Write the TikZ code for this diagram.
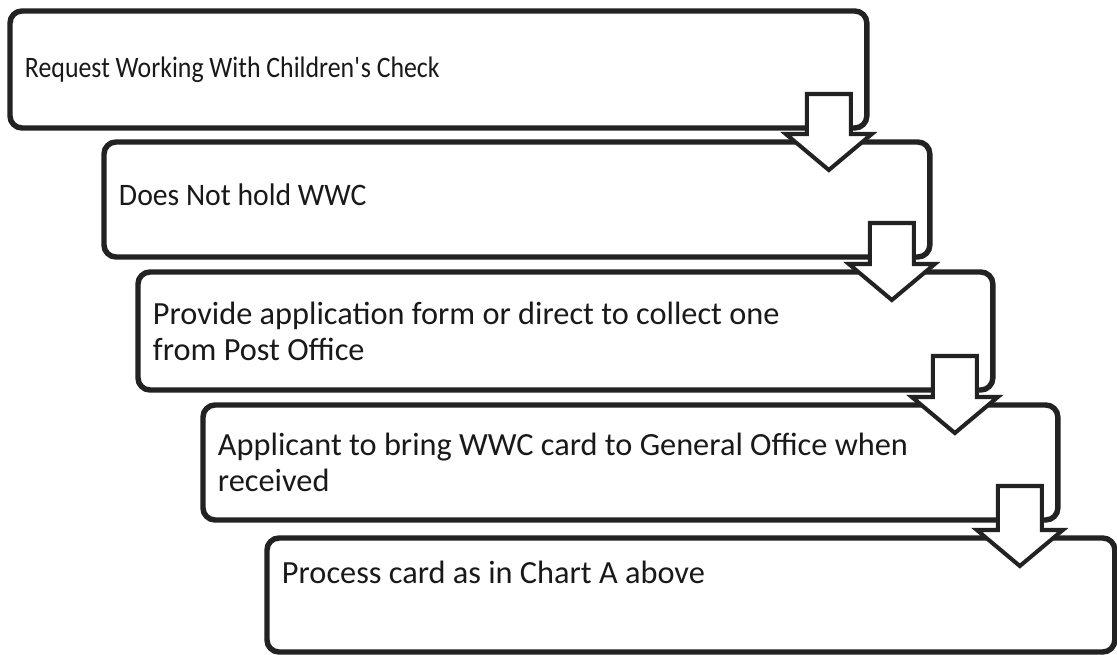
\documentclass[tikz,border=0pt]{standalone}
\usepackage{fontspec}
\setmainfont{Carlito}
\newfontfamily\narrowA[FakeStretch=0.87]{Carlito}
\newfontfamily\narrowB[FakeStretch=0.95]{Carlito}
\usetikzlibrary{calc}
\definecolor{inkgray}{RGB}{34, 34, 34}
\tikzset{
  % Step box of the staircase (outline only, text left aligned).
  stepbox/.style={
    rectangle, rounded corners=0.24cm,
    draw=inkgray, line width=3.1pt,
    fill=white,
    outer sep=0pt,
    inner xsep=0.3cm,
    anchor=north west,
    align=flush left,
    font=\fontsize{18.4pt}{20.5pt}\selectfont,
    text=black!90,
  },
  % Hollow block arrow between two steps.
  blockarrow/.style={
    draw=inkgray, line width=2.3pt,
    fill=white, line join=miter,
  },
}

\begin{document}
\begin{tikzpicture}[x=0.02cm, y=-0.02cm]
  \useasboundingbox (0,0) rectangle (1117,654);

  % The five steps, each shifted right and down.
  \node[stepbox, minimum width=17.14cm, text width=16.54cm, minimum height=2.34cm] (req) at (10,11)
    {\narrowA\fontsize{16.9pt}{20.5pt}\selectfont Request Working With Children\textquotesingle s Check};
  \node[stepbox, minimum width=16.52cm, text width=15.92cm, minimum height=2.30cm, text depth=0.2cm] (nohold) at (104,142)
    {\narrowB\fontsize{17.8pt}{20.5pt}\selectfont Does Not hold WWC};
  \node[stepbox, minimum width=17.10cm, text width=16.50cm, minimum height=2.36cm] (form) at (138,272)
    {Provide application form or direct to collect one\\from Post Office};
  \node[stepbox, minimum width=17.10cm, text width=16.50cm, minimum height=2.30cm] (bring) at (203,405)
    {Applicant to bring WWC card to General Office when\\received};
  \node[stepbox, minimum width=16.96cm, text width=16.36cm, minimum height=2.28cm, text depth=0.9cm] (proc) at (267,538)
    {Process card as in Chart A above};

  % Down arrows at the right end of each step.
  \foreach \a/\b in {req/nohold, nohold/form, form/bring, bring/proc}{
    \coordinate (m) at ($(\a.south east)+(-38,0)$);
    \coordinate (n) at (m |- \b.north);
    \draw[blockarrow]
      ($(m)+(-22,-34)$) -- ($(m)+(22,-34)$) --
      ($(n)+(22,-8)$) -- ($(n)+(43,-8)$) --
      ($(n)+(0,28)$) --
      ($(n)+(-43,-8)$) -- ($(n)+(-22,-8)$) -- cycle;
  }

\end{tikzpicture}
\end{document}
